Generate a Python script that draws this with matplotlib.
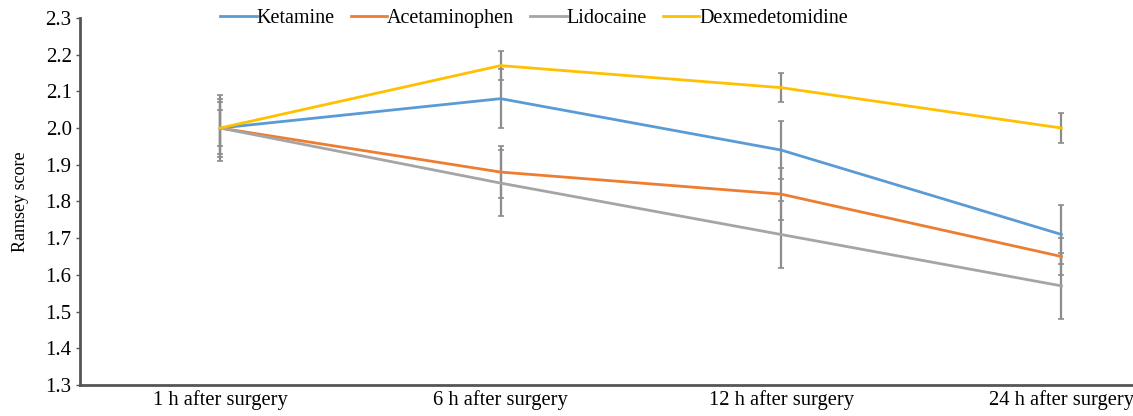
import matplotlib.pyplot as plt

plt.rcParams["font.family"] = ["Liberation Serif", "DejaVu Serif"]

timepoints = ["1 h after surgery", "6 h after surgery", "12 h after surgery", "24 h after surgery"]
groups = ["Ketamine", "Acetaminophen", "Lidocaine", "Dexmedetomidine"]
colors = ["#5B9BD5", "#ED7D31", "#A5A5A5", "#FFC000"]

ketamine = [2.00, 2.08, 1.94, 1.71]
acetaminophen = [2.00, 1.88, 1.82, 1.65]
lidocaine = [2.00, 1.85, 1.71, 1.57]
dexmedetomidine = [2.00, 2.17, 2.11, 2.00]

ketamine_err = [0.08, 0.08, 0.08, 0.08]
acetaminophen_err = [0.05, 0.07, 0.07, 0.05]
lidocaine_err = [0.09, 0.09, 0.09, 0.09]
dexmedetomidine_err = [0.07, 0.04, 0.04, 0.04]

series = [ketamine, acetaminophen, lidocaine, dexmedetomidine]
errors = [ketamine_err, acetaminophen_err, lidocaine_err, dexmedetomidine_err]

fig = plt.figure(figsize=(11.33, 4.16), dpi=100)
ax = fig.add_axes([0.0706, 0.0745, 0.99, 0.8825])

x = list(range(len(timepoints)))
for name, vals, errs, c in zip(groups, series, errors, colors):
    ax.errorbar(x, vals, yerr=errs, fmt="none", ecolor="#8c8c8c", elinewidth=1.6,
                capsize=2, capthick=1.2, zorder=2)
for name, vals, c in zip(groups, series, colors):
    ax.plot(x, vals, color=c, linewidth=2.0, label=name, zorder=3)

ax.set_xlim(-0.5, 3.5)
ax.set_ylim(1.3, 2.3)
ax.set_yticks([1.3 + 0.1 * i for i in range(11)])
ax.set_yticklabels([f"{1.3 + 0.1 * i:.1f}" for i in range(11)])
ax.set_xticks(x)
ax.set_xticklabels(timepoints)
ax.tick_params(axis="x", length=0, labelsize=14.8, pad=4)
ax.tick_params(axis="y", length=3, width=1, color="#555555", labelsize=15, pad=3)
ax.set_ylabel("Ramsey score", fontsize=13, labelpad=12)

for s in ["top", "right"]:
    ax.spines[s].set_visible(False)
for s in ["left", "bottom"]:
    ax.spines[s].set_color("#555555")
    ax.spines[s].set_linewidth(2)

ax.legend(loc="upper center", bbox_to_anchor=(0.405, 1.075), ncol=4,
          frameon=False, fontsize=14.5, handlelength=1.8, handletextpad=0.0,
          columnspacing=0.8)

fig.savefig("out.png", dpi=100)
